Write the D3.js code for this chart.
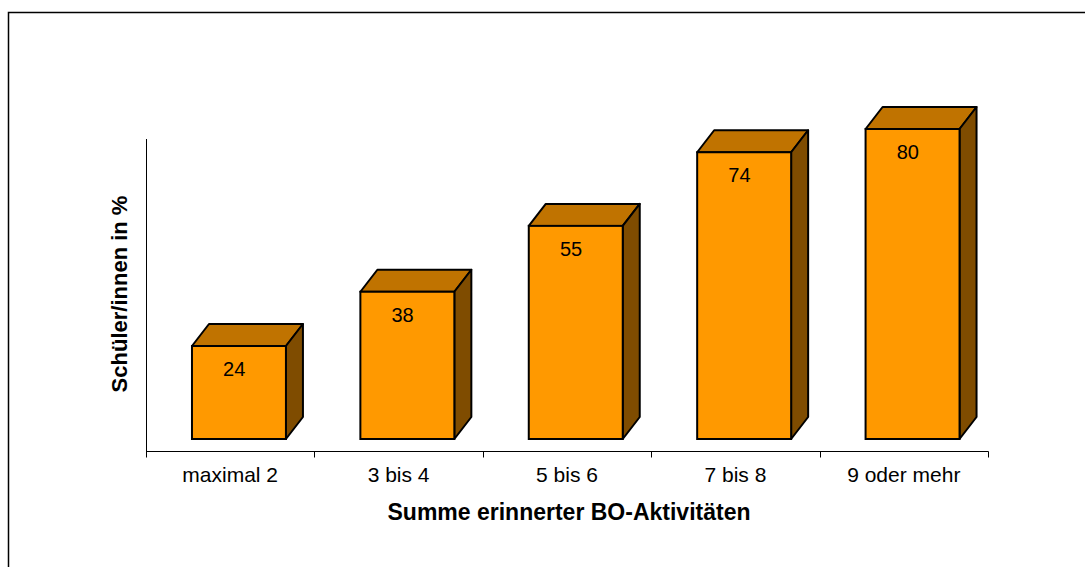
<!DOCTYPE html>
<html>
<head>
<meta charset="utf-8">
<script src="https://cdn.jsdelivr.net/npm/d3@7"></script>
<style>
body { margin: 0; background: #fff; }
text { font-family: "Liberation Sans", Arial, sans-serif; fill: #000; }
</style>
</head>
<body>
<div id="chart"></div>
<script>
var categories = ["maximal 2", "3 bis 4", "5 bis 6", "7 bis 8", "9 oder mehr"];
var values = [24, 38, 55, 74, 80];
var xTitle = "Summe erinnerter BO-Aktivitäten";
var yTitle = "Schüler/innen in %";

var width = 1085, height = 567;
var svg = d3.select("#chart").append("svg")
	.attr("width", width)
	.attr("height", height);

// outer frame (right and bottom edges fall outside the picture)
svg.append("path")
	.attr("d", "M8.5," + (height + 5) + "V12.5H" + (width + 5))
	.attr("fill", "none")
	.attr("stroke", "#000")
	.attr("stroke-width", 1.5);

var xScale = d3.scaleBand()
	.domain(categories)
	.range([146, 988]);
var yScale = d3.scaleLinear()
	.domain([0, 80])
	.range([439, 129]);

var bw = xScale.bandwidth();
var dx = 17, dy = 22;
var face = function(d) { return xScale(d.c) + bw * 0.273; };
var fw = bw * 0.558;

var data = categories.map(function(c, i) { return {c: c, v: values[i]}; });

// axes lines
svg.append("line")
	.attr("x1", 146.5).attr("x2", 146.5)
	.attr("y1", 139).attr("y2", 451)
	.attr("stroke", "#000").attr("stroke-width", 1);
var xAxis = svg.append("g")
	.attr("transform", "translate(0,451.5)")
	.call(d3.axisBottom(xScale).tickSize(0).tickFormat(""));
xAxis.select(".domain").remove();
xAxis.append("line")
	.attr("x1", 146).attr("x2", 988.5)
	.attr("stroke", "#000");
xAxis.selectAll(".sep")
	.data(categories.concat([null]))
	.enter().append("line")
	.attr("class", "sep")
	.attr("x1", function(d, i) { return Math.round(146 + i * bw) + 0.5; })
	.attr("x2", function(d, i) { return Math.round(146 + i * bw) + 0.5; })
	.attr("y1", 0).attr("y2", 6)
	.attr("stroke", "#000");

svg.selectAll(".tick-label")
	.data(categories)
	.enter().append("text")
	.attr("class", "tick-label")
	.attr("x", function(d) { return xScale(d) + bw / 2; })
	.attr("y", 482)
	.attr("text-anchor", "middle")
	.style("font-size", "21px")
	.text(function(d) { return d; });

var bars = svg.selectAll(".bar")
	.data(data)
	.enter().append("g")
	.attr("class", "bar");

// top face
bars.append("path")
	.attr("d", function(d) {
		var x0 = face(d), y0 = yScale(d.v);
		return "M" + x0 + "," + y0 + "L" + (x0 + dx) + "," + (y0 - dy) +
			"L" + (x0 + fw + dx) + "," + (y0 - dy) + "L" + (x0 + fw) + "," + y0 + "Z";
	})
	.attr("fill", "#c07300")
	.attr("stroke", "#000")
	.attr("stroke-width", 2)
	.attr("stroke-linejoin", "round");

// side face
bars.append("path")
	.attr("d", function(d) {
		var x1 = face(d) + fw, y0 = yScale(d.v), yb = yScale(0);
		return "M" + x1 + "," + y0 + "L" + (x1 + dx) + "," + (y0 - dy) +
			"L" + (x1 + dx) + "," + (yb - dy) + "L" + x1 + "," + yb + "Z";
	})
	.attr("fill", "#7f4c00")
	.attr("stroke", "#000")
	.attr("stroke-width", 2)
	.attr("stroke-linejoin", "round");

// front face
bars.append("rect")
	.attr("x", face)
	.attr("y", function(d) { return yScale(d.v); })
	.attr("width", fw)
	.attr("height", function(d) { return yScale(0) - yScale(d.v); })
	.attr("fill", "#ff9900")
	.attr("stroke", "#000")
	.attr("stroke-width", 2);

bars.append("text")
	.attr("x", function(d) { return xScale(d.c) + bw / 2 + 4; })
	.attr("y", function(d) { return yScale(d.v) + 30; })
	.attr("text-anchor", "middle")
	.style("font-size", "20px")
	.text(function(d) { return d.v; });

svg.append("text")
	.attr("x", 569)
	.attr("y", 520)
	.attr("text-anchor", "middle")
	.style("font-size", "23px")
	.style("font-weight", "bold")
	.text(xTitle);

svg.append("text")
	.attr("transform", "translate(127,294) rotate(-90)")
	.attr("text-anchor", "middle")
	.style("font-size", "22px")
	.style("font-weight", "bold")
	.text(yTitle);
</script>
</body>
</html>
